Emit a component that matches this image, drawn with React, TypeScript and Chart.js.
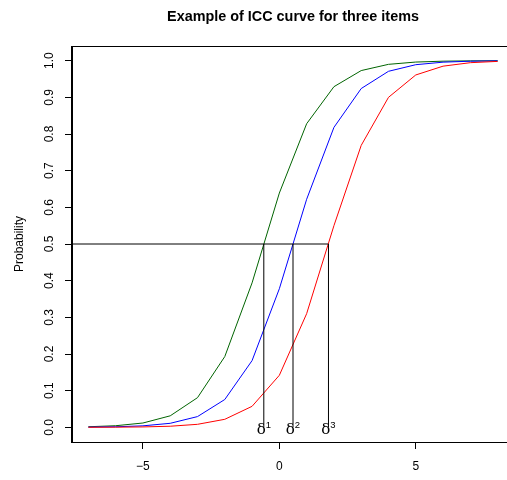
import React, { useEffect, useRef } from "react";
import { Chart, registerables } from "chart.js";

Chart.register(...registerables);

const thetas = [-7, -6, -5, -4, -3, -2, -1, 0, 1, 2, 3, 4, 5, 6, 7, 8];
const item1 = [0.0016, 0.0044, 0.0118, 0.0314, 0.0809, 0.193, 0.394, 0.639, 0.828, 0.929, 0.973, 0.99, 0.9962, 0.9986, 0.9995, 0.9998];
const item2 = [0.00055, 0.0015, 0.0041, 0.011, 0.0293, 0.0759, 0.182, 0.378, 0.622, 0.818, 0.924, 0.971, 0.989, 0.9959, 0.9985, 0.99945];
const item3 = [0.00015, 0.00041, 0.0011, 0.003, 0.0082, 0.0219, 0.0573, 0.142, 0.31, 0.55, 0.769, 0.9, 0.961, 0.985, 0.9945, 0.998];
const deltas = [-0.57, 0.5, 1.8];
const deltaLabels = ["1", "2", "3"];
const xTicks = [-5, 0, 5];
const yTicks = [0, 0.1, 0.2, 0.3, 0.4, 0.5, 0.6, 0.7, 0.8, 0.9, 1.0];
const xMin = -7.6;
const xMax = 8.6;
const yMin = -0.04;
const yMax = 1.04;
const title = "Example of ICC curve for three items";
const yTitle = "Probability";

const FONT = "'Liberation Sans', Arial, Helvetica, sans-serif";
const SERIF = "'DejaVu Serif', 'Liberation Serif', serif";

const toPts = (ys: number[]) => thetas.map((x, i) => ({ x, y: ys[i] }));

const annotPlugin = {
  id: "annot",
  afterDraw(chart: any) {
    const ctx = chart.ctx as CanvasRenderingContext2D;
    const { left, right, top, bottom } = chart.chartArea;
    const xs = chart.scales.x;
    const ys = chart.scales.y;
    ctx.save();
    // box
    ctx.strokeStyle = "#000";
    ctx.lineWidth = 1;
    ctx.strokeRect(left - 0.5, top + 0.5, right - left + 1, bottom - top);
    ctx.fillStyle = "#000";
    // title
    ctx.font = `bold 14.4px ${FONT}`;
    ctx.textAlign = "center";
    ctx.textBaseline = "alphabetic";
    ctx.fillText(title, (left + right) / 2, 21);
    // x tick labels
    ctx.font = `12px ${FONT}`;
    ctx.textBaseline = "middle";
    for (const v of xTicks) {
      const lbl = v < 0 ? "\u2212" + Math.abs(v) : String(v);
      ctx.fillText(lbl, xs.getPixelForValue(v), 467);
    }
    // y tick labels (rotated)
    for (const v of yTicks) {
      const py = ys.getPixelForValue(v);
      ctx.save();
      ctx.translate(52.5, py);
      ctx.rotate(-Math.PI / 2);
      ctx.textAlign = "center";
      ctx.textBaseline = "alphabetic";
      ctx.fillText(v.toFixed(1), 0, 0);
      ctx.restore();
    }
    // y axis title
    ctx.save();
    ctx.translate(23, (top + bottom) / 2);
    ctx.rotate(-Math.PI / 2);
    ctx.textAlign = "center";
    ctx.textBaseline = "alphabetic";
    ctx.fillText(yTitle, 0, 0);
    ctx.restore();
    // delta labels
    const py0 = ys.getPixelForValue(0);
    deltas.forEach((d, i) => {
      const px = xs.getPixelForValue(d);
      ctx.font = `15px ${SERIF}`;
      const w1 = ctx.measureText("\u03b4").width;
      ctx.font = `9.5px ${FONT}`;
      const w2 = ctx.measureText(deltaLabels[i]).width;
      const x0 = px - (w1 + w2) / 2;
      ctx.textAlign = "left";
      ctx.textBaseline = "alphabetic";
      ctx.font = `15px ${SERIF}`;
      ctx.fillText("\u03b4", x0, py0 + 7);
      ctx.font = `9.5px ${FONT}`;
      ctx.fillText(deltaLabels[i], x0 + w1, py0 + 0.5);
    });
    ctx.restore();
  },
};

export default function App() {
  const ref = useRef<HTMLCanvasElement | null>(null);
  useEffect(() => {
    if (!ref.current) return;
    const lineDs = (data: any[], color: string) => ({
      data,
      borderColor: color,
      backgroundColor: color,
      borderWidth: 1,
      pointRadius: 0,
      tension: 0,
      fill: false,
    });
    const datasets: any[] = [
      lineDs([{ x: xMin, y: 0.5 }, { x: deltas[2], y: 0.5 }], "#000"),
      ...deltas.map((d) => lineDs([{ x: d, y: 0 }, { x: d, y: 0.5 }], "#000")),
      lineDs(toPts(item3), "#ff0000"),
      lineDs(toPts(item2), "#0000ff"),
      lineDs(toPts(item1), "#006400"),
    ];
    const chart = new Chart(ref.current, {
      type: "line",
      data: { datasets },
      plugins: [annotPlugin],
      options: {
        animation: false,
        responsive: false,
        devicePixelRatio: 1,
        layout: { padding: { top: 46, right: 16, left: 0, bottom: 0 } },
        plugins: { legend: { display: false }, tooltip: { enabled: false }, title: { display: false } },
        scales: {
          x: {
            type: "linear",
            min: xMin,
            max: xMax,
            afterBuildTicks: (s: any) => {
              s.ticks = xTicks.map((v) => ({ value: v }));
            },
            afterFit: (s: any) => {
              s.height = 38;
            },
            ticks: { display: false },
            grid: { drawOnChartArea: false, drawTicks: true, tickLength: 7, color: "#000", lineWidth: 1 },
            border: { display: true, color: "#000" },
          },
          y: {
            type: "linear",
            min: yMin,
            max: yMax,
            afterBuildTicks: (s: any) => {
              s.ticks = yTicks.map((v) => ({ value: v }));
            },
            afterFit: (s: any) => {
              s.width = 72;
            },
            ticks: { display: false },
            grid: { drawOnChartArea: false, drawTicks: true, tickLength: 7, color: "#000", lineWidth: 1 },
            border: { display: true, color: "#000" },
          },
        },
      },
    });
    return () => chart.destroy();
  }, []);
  return (
    <div style={{ position: "fixed", left: 0, top: 0, width: 507, height: 480, overflow: "hidden", background: "#fff" }}>
      <canvas ref={ref} width={530} height={480} style={{ display: "block", width: 530, height: 480 }} />
    </div>
  );
}
